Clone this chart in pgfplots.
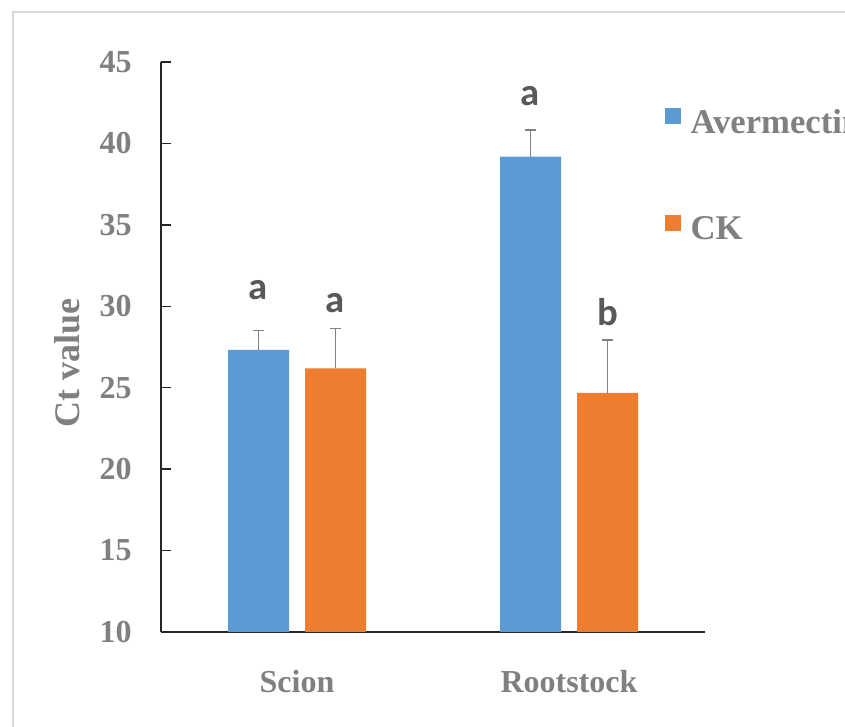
\documentclass[border=0pt]{standalone}
\usepackage{pgfplots}
\pgfplotsset{compat=1.18}
\usepackage{fontspec}
\setmainfont{Liberation Serif}
\newfontfamily\letterfont{Carlito}
\definecolor{cblue}{HTML}{5B9BD5}
\definecolor{corange}{HTML}{ED7D31}
\definecolor{tgray}{HTML}{808080}
\definecolor{lgray}{HTML}{595959}
\definecolor{fgray}{HTML}{D9D9D9}
\begin{document}
\begin{tikzpicture}
\useasboundingbox (0,0) rectangle (633.75pt,545.25pt);
\clip (0,0) rectangle (633.75pt,545.25pt);
\fill[white] (0,0) rectangle (633.75pt,545.25pt);
\draw[fgray, line width=1.5pt] (9.5pt,-20pt) -- (9.5pt,536.25pt) -- (700pt,536.25pt);
\begin{axis}[
  at={(120.75pt,71.25pt)}, anchor=south west,
  scale only axis, width=408pt, height=427.5pt,
  xmin=-0.5, xmax=1.5, ymin=10, ymax=45,
  ytick={10,15,...,45},
  xtick={0,1}, xticklabels={Scion,Rootstock},
  axis x line*=bottom, axis y line*=left,
  axis line style={line width=1.2pt, black!85, -},
  tick align=inside, ytick pos=left,
  major tick length=7.5pt,
  y tick style={line width=1.1pt, black!85},
  x tick style={draw=none},
  /pgf/number format/assume math mode=true,
  tick label style={font=\fontsize{24}{28}\selectfont\bfseries, text=tgray},
  yticklabel style={anchor=east, inner sep=0pt, xshift=-21.75pt},
  xticklabel style={anchor=base, inner sep=0pt, yshift=-37.5pt},
  ylabel={Ct value},
  ylabel style={font=\fontsize{27}{32}\selectfont\bfseries, text=tgray, at={(axis description cs:-0.1728,0.472)}, anchor=center},
  ybar=12pt, bar width=45.75pt,
  legend style={at={(rel axis cs:0.9265,0.922)}, anchor=north west, draw=none, fill=none,
    font=\fontsize{26}{30}\selectfont\bfseries, text=tgray, row sep=57pt, inner sep=0pt,
    /tikz/every odd column/.append style={column sep=5pt}},
  legend cell align=left,
  every axis plot post/.append style={legend image code/.code={\fill[##1, draw=none] (0pt,-1pt) rectangle (12pt,11pt);}},
  error bars/y dir=plus, error bars/y explicit,
  error bars/error bar style={tgray, line width=0.9pt},
  error bars/error mark options={rotate=90, mark size=4.1pt, tgray, line width=0.9pt},
]
\addplot[fill=cblue, draw=none] coordinates {(0,27.32) +- (0,1.17) (1,39.19) +- (0,1.63)};
\addplot[fill=corange, draw=none] coordinates {(0,26.19) +- (0,2.44) (1,24.69) +- (0,3.24)};
\legend{Avermectin, CK}
\node[font=\letterfont\fontsize{29}{32}\selectfont\bfseries, text=lgray, anchor=base, xshift=-28.875pt] at (axis cs:0,30.39) {a};
\node[font=\letterfont\fontsize{29}{32}\selectfont\bfseries, text=lgray, anchor=base, xshift=28.875pt] at (axis cs:0,29.59) {a};
\node[font=\letterfont\fontsize{29}{32}\selectfont\bfseries, text=lgray, anchor=base, xshift=-28.875pt] at (axis cs:1,42.3) {a};
\node[font=\letterfont\fontsize{29}{32}\selectfont\bfseries, text=lgray, anchor=base, xshift=28.875pt] at (axis cs:1,28.85) {b};
\end{axis}
\end{tikzpicture}
\end{document}
